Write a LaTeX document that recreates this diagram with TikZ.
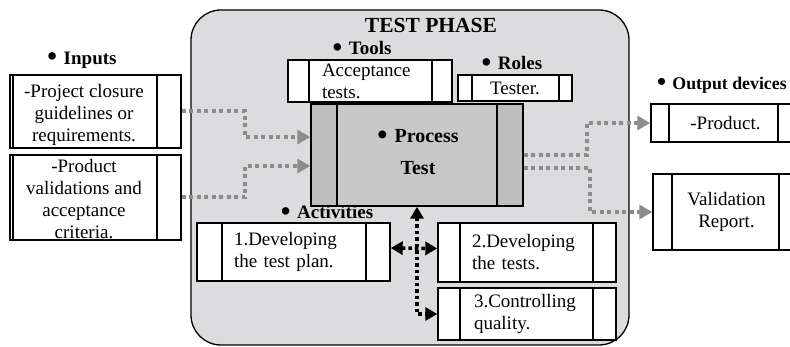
\documentclass[tikz,border=0pt]{standalone}
\usepackage{fontspec}
\setmainfont{Liberation Serif}
\usetikzlibrary{arrows.meta,calc}
\definecolor{phase}{RGB}{220,220,222}
\definecolor{procside}{RGB}{190,190,190}
\definecolor{procmid}{RGB}{200,200,200}
\definecolor{dotgray}{RGB}{140,140,140}
\newcommand\bulmark{\raisebox{-0.2ex}{\scalebox{1.45}{•}}\hspace{0.35em}}
\tikzset{
  body/.style={font=\fontsize{19}{22}\selectfont},
  lbl/.style={font=\fontsize{19}{22}\selectfont\bfseries, inner sep=0pt},
  tribox/.style 2 args={draw=black, line width=1.4pt, fill=white, inner sep=0pt,
    body, path picture={
      \draw[line width=1.4pt] ([xshift=#1]path picture bounding box.north west) -- ([xshift=#1]path picture bounding box.south west);
      \draw[line width=1.4pt] ([xshift=-#2]path picture bounding box.north east) -- ([xshift=-#2]path picture bounding box.south east);}},
  procbox/.style={draw=black, line width=1.4pt, fill=procmid, inner sep=0pt, path picture={
      \fill[procside] (path picture bounding box.north west) rectangle ([xshift=26pt]path picture bounding box.south west);
      \fill[procside] (path picture bounding box.north east) rectangle ([xshift=-26pt]path picture bounding box.south east);
      \draw[line width=1.4pt] ([xshift=26pt]path picture bounding box.north west) -- ([xshift=26pt]path picture bounding box.south west);
      \draw[line width=1.4pt] ([xshift=-26pt]path picture bounding box.north east) -- ([xshift=-26pt]path picture bounding box.south east);}},
  graydot/.style={draw=dotgray, line width=4pt, dash pattern=on 4pt off 3.5pt,
    -{Triangle[length=13pt,width=14pt,fill=dotgray]}},
  blackdot/.style={draw=black, line width=3.5pt, dash pattern=on 3.5pt off 3pt},
}
\begin{document}
\begin{tikzpicture}[x=1pt,y=-1pt]
\useasboundingbox (0,0) rectangle (790,347);
% phase frame
\node[draw=black, line width=1.3pt, fill=phase, rounded corners=30pt, minimum width=438pt, minimum height=335pt, inner sep=0pt] (phase) at (410,177.5) {};
\node[font=\fontsize{21.5}{24}\selectfont\bfseries, inner sep=0pt] (title) at (431,25) {TEST PHASE};
% labels
\node[lbl] (ltools) at (362,49) {\bulmark Tools};
\node[lbl] (lroles) at (512,64) {\bulmark Roles};
\node[lbl] (linputs) at (82,60) {\bulmark Inputs};
\node[lbl, font=\fontsize{17.8}{22}\selectfont\bfseries, anchor=west] (loutputs) at (657,85) {\bulmark Output devices};
\node[lbl] (lact) at (327,213) {\bulmark Activities};
% input boxes
\node[tribox={3pt}{24pt}, minimum width=171pt, minimum height=73pt] (in1) at (95.5,111.5) {};
\node[body, align=center, inner sep=0pt] (in1t) at (84,115) {-Project closure\\guidelines or\\requirements.};
\node[tribox={3pt}{24pt}, minimum width=171pt, minimum height=85pt] (in2) at (95.5,197.5) {};
\node[body, align=center, inner sep=0pt] (in2t) at (84,199) {-Product\\validations and\\acceptance\\criteria.};
% tools, roles
\node[tribox={21pt}{20pt}, minimum width=164pt, minimum height=42pt, text width=96pt, align=left] (tools) at (370,81) {Acceptance\\tests.};
\node[tribox={14pt}{13pt}, minimum width=114pt, minimum height=26pt] (roles) at (515,88) {Tester.};
% process
\node[procbox, minimum width=212pt, minimum height=102pt] (proc) at (417,155) {};
\node[font=\fontsize{20}{22}\selectfont\bfseries, inner sep=0pt] (proct1) at (418,137) {\bulmark Process};
\node[font=\fontsize{20}{22}\selectfont\bfseries, inner sep=0pt] (proct2) at (418,168) {Test};
% activities
\node[tribox={25pt}{24pt}, minimum width=193pt, minimum height=58pt, text width=119pt, align=left] (act1) at (293.5,252) {1.Developing\\the test plan.};
\node[tribox={22pt}{23pt}, minimum width=178pt, minimum height=59pt, text width=110pt, align=left] (act2) at (527,252.5) {2.Developing\\the tests.};
\node[tribox={22pt}{23pt}, minimum width=178pt, minimum height=52pt, text width=106pt, align=left] (act3) at (527,314) {3.Controlling\\quality.};
% outputs
\node[tribox={18pt}{22pt}, minimum width=149pt, minimum height=38pt, align=center] (prod) at (725.5,123) {-Product.};
\node[tribox={19pt}{21pt}, minimum width=147pt, minimum height=76pt, align=center] (val) at (726.5,212) {Validation\\Report.};
% gray connectors
\draw[graydot] (in1.east) -- (245,111.5) |- ([yshift=18pt]proc.west);
\draw[graydot] (in2.east) -- (245,197.5) |- ([yshift=-11pt]proc.west);
\draw[graydot] (proc.east) -- (587,155) |- (prod.west);
\draw[graydot] ([yshift=-13pt]proc.east) -- (590,168) |- (val.west);
% black connectors
\draw[blackdot, {Triangle[length=12pt,width=13pt]}-{Triangle[length=12pt,width=13pt]}] (proc.south) |- (act3.west);
\draw[blackdot, {Triangle[length=12pt,width=13pt]}-{Triangle[length=12pt,width=13pt]}] ([yshift=4pt]act1.east) -- ([yshift=4pt]act2.west);
\end{tikzpicture}
\end{document}
